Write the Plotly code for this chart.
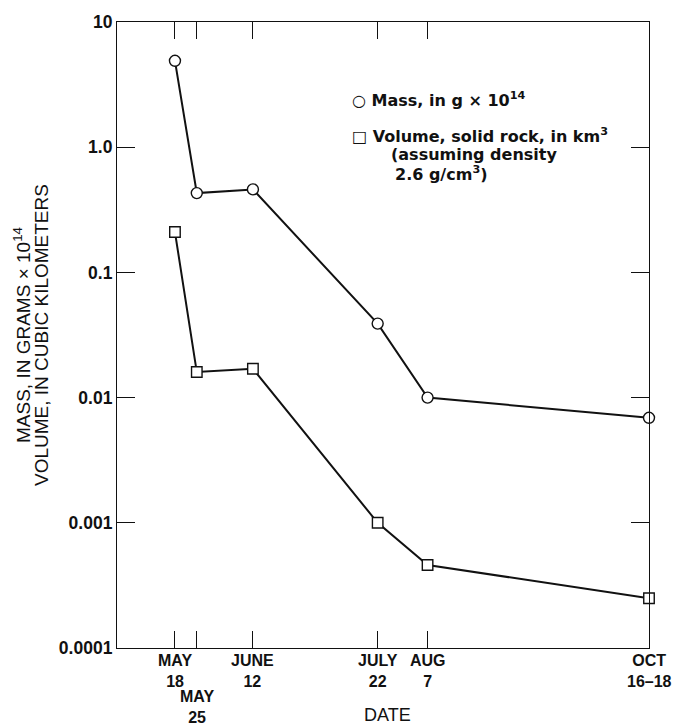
import plotly.graph_objects as go

# Observation dates (1980) and measured values
dates = ["1980-05-18", "1980-05-25", "1980-06-12", "1980-07-22", "1980-08-07", "1980-10-17"]
date_months = ["MAY", "MAY", "JUNE", "JULY", "AUG", "OCT"]
date_days = ["18", "25", "12", "22", "7", "16\u201318"]
mass = [4.9, 0.43, 0.46, 0.039, 0.010, 0.0069]          # g x 10^14
volume = [0.21, 0.016, 0.017, 0.0010, 0.00046, 0.00025]  # km^3 solid rock

y_tickvals = [0.0001, 0.001, 0.01, 0.1, 1.0, 10]
y_ticktext = ["0.0001", "0.001", "0.01", "0.1", "1.0", "10"]

TICK_FONT = "Liberation Sans, Arial, sans-serif"
LEGEND_FONT = "DejaVu Sans, Verdana, sans-serif"
TITLE_FONT = "Liberation Sans, Arial, sans-serif"
INK = "#111111"

fig = go.Figure()

fig.add_trace(go.Scatter(
    x=dates, y=mass, mode="lines+markers", cliponaxis=False, showlegend=False,
    line=dict(color=INK, width=2),
    marker=dict(symbol="circle", size=11, color="white", line=dict(color=INK, width=1.4)),
))
fig.add_trace(go.Scatter(
    x=dates, y=volume, mode="lines+markers", cliponaxis=False, showlegend=False,
    line=dict(color=INK, width=2),
    marker=dict(symbol="square", size=10.5, color="white", line=dict(color=INK, width=1.4)),
))

fig.update_layout(
    width=674, height=727,
    margin=dict(l=117, r=25, t=16, b=79),
    paper_bgcolor="white", plot_bgcolor="white",
    font=dict(family=TICK_FONT, color=INK),
    xaxis=dict(
        type="date", range=["1980-04-29 10:00", "1980-10-17"],
        tickvals=dates, showticklabels=False,
        ticks="inside", ticklen=17, tickwidth=1, tickcolor=INK,
        showline=True, linecolor=INK, linewidth=1.2, mirror="ticks",
        showgrid=False, zeroline=False,
    ),
    yaxis=dict(
        type="log", range=[-4, 1],
        tickvals=y_tickvals, ticktext=y_ticktext,
        ticks="inside", ticklen=18, tickwidth=1, tickcolor=INK,
        tickfont=dict(size=17.5, family=TICK_FONT, weight="bold"),
        showline=True, linecolor=INK, linewidth=1.2, mirror="ticks",
        showgrid=False, zeroline=False,
    ),
)

# Date labels under the axis (month over day); the May 25 label sits one row lower
tick_font = dict(size=16, family=TICK_FONT, weight="bold")
for i, (d, mon, day) in enumerate(zip(dates, date_months, date_days)):
    if i == 1:
        anchor, shift = "bottom", -79
    else:
        anchor, shift = "top", -3
    fig.add_annotation(
        x=d, y=0, xref="x", yref="paper", text=f"{mon}<br>{day}", showarrow=False,
        xanchor="center", yanchor=anchor, yshift=shift, font=tick_font,
        align="center", borderpad=0,
    )

fig.add_annotation(
    x=0.5, y=0, xref="paper", yref="paper", text="DATE", showarrow=False,
    xanchor="center", yanchor="bottom", xshift=4, yshift=-78, borderpad=0,
    font=dict(size=18, family=TITLE_FONT),
)

# Two-line vertical axis title
for txt, shift in [("MASS, IN GRAMS \u00d7 10<sup>14</sup>", -95),
                   ("VOLUME, IN CUBIC KILOMETERS", -76)]:
    fig.add_annotation(
        x=0, y=0.5, xref="paper", yref="paper", text=txt,
        showarrow=False, textangle=-90, xanchor="center", yanchor="middle", xshift=shift,
        font=dict(size=19, family=TITLE_FONT),
    )

# Legend block, one annotation per line
legend_lines = [
    ("\u25cb Mass, in g \u00d7 10<sup>14</sup>", 350, 94),
    ("\u25a1 Volume, solid rock, in km<sup>3</sup>", 350, 131),
    ("(assuming density", 389, 150),
    ("2.6 g/cm<sup>3</sup>)", 393, 169),
]
for txt, px, py in legend_lines:
    fig.add_annotation(
        x=(px - 117) / 532, y=1 - (py - 16) / 632, xref="paper", yref="paper",
        xanchor="left", yanchor="middle", text=txt, showarrow=False,
        font=dict(size=16, family=LEGEND_FONT, weight="bold"), align="left",
    )

fig.write_html("out.html")
